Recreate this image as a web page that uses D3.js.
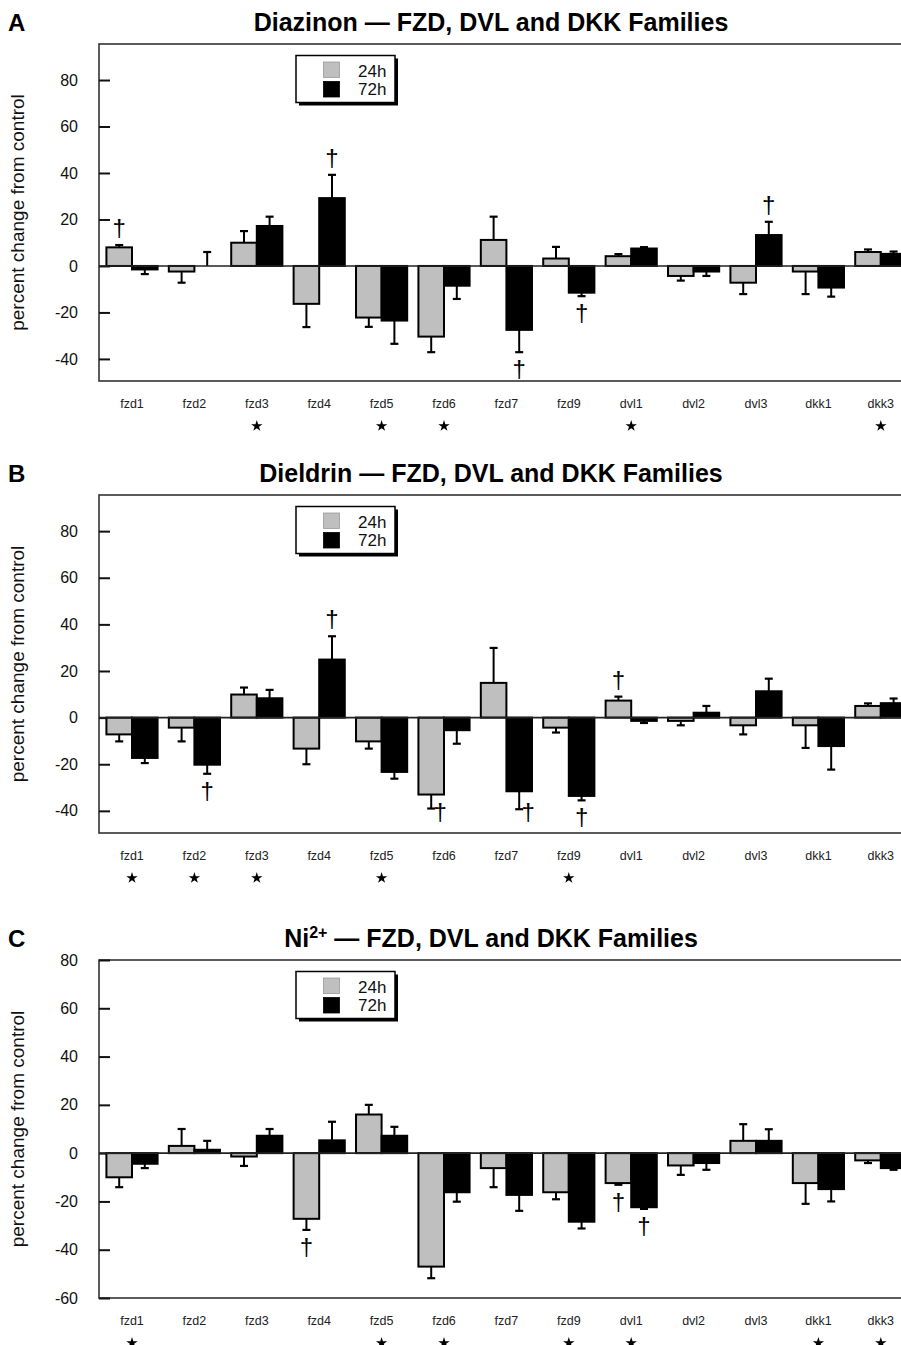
<!DOCTYPE html>
<html>
<head>
<meta charset="utf-8">
<script src="https://cdn.jsdelivr.net/npm/d3@7"></script>
<style>
  body { margin: 0; background: #fff; }
  svg { display: block; font-family: "Liberation Sans", Arial, Helvetica, sans-serif; }
</style>
</head>
<body>
<svg id="chart" width="901" height="1345"></svg>
<script>
// ---------- data ----------
const genes = ["fzd1","fzd2","fzd3","fzd4","fzd5","fzd6","fzd7","fzd9","dvl1","dvl2","dvl3","dkk1","dkk3"];
const seriesNames = ["24h","72h"];
const yTicksAB = [-40,-20,0,20,40,60,80];
const yTicksC = [-60,-40,-20,0,20,40,60,80];

const diazinon24    = [8, -2.4, 10, -16.3, -22.2, -30.4, 11.2, 3.2, 4.2, -4.3, -7.2, -2.4, 6];
const diazinon24Err = [1, 4.8, 5, 10, 4, 6.7, 10, 5, 0.9, 2, 4.9, 9.7, 1.1];
const diazinon72    = [-1.5, 0, 17.2, 29.2, -23.5, -8.5, -27.5, -11.5, 7.5, -2.4, 13.3, -9.3, 5.2];
const diazinon72Err = [2, 6, 4, 10, 10, 5.7, 9.6, 1.5, 0.6, 1.9, 5.7, 3.9, 1];

const dieldrin24    = [-7.2, -4.3, 9.9, -13.3, -10.2, -33, 14.9, -4.3, 7.3, -1.4, -3.3, -3.3, 5];
const dieldrin24Err = [3, 5.9, 3, 6.7, 3.1, 6, 15, 2.1, 1.7, 1.9, 3.9, 9.7, 1.1];
const dieldrin72    = [-17.3, -20.2, 8.3, 24.9, -23.3, -5.4, -31.6, -33.6, -1.4, 2.1, 11.3, -12.2, 6.2];
const dieldrin72Err = [2.2, 3.9, 3.6, 10, 2.9, 5.8, 7.7, 1.9, 0.9, 2.9, 5.4, 10.1, 2];

const nickel24    = [-10, 3, -1.4, -27.2, 16, -47, -6.2, -16.2, -12.4, -5.1, 5.1, -12.4, -3];
const nickel24Err = [4.1, 7, 3.9, 4.6, 4, 4.8, 7.9, 2.9, 0.7, 3.9, 6.9, 8.6, 1.1];
const nickel72    = [-4.4, 1.4, 7.2, 5.3, 7.2, -16.2, -17.3, -28.4, -22.4, -4.1, 5.1, -14.9, -6.2];
const nickel72Err = [1.8, 3.7, 2.8, 7.7, 3.7, 3.9, 6.6, 2.8, 0.7, 2.8, 4.8, 5.1, 0.7];

// significance marks: * below gene label; † on a given series bar
const starsA = ["fzd3","fzd5","fzd6","dvl1","dkk3"];
const starsB = ["fzd1","fzd2","fzd3","fzd5","fzd9"];
const starsC = ["fzd1","fzd5","fzd6","fzd9","dvl1","dkk1","dkk3"];
const daggersA = [["fzd1","24h","above"],["fzd4","72h","above"],["fzd7","72h","below"],["fzd9","72h","below"],["dvl3","72h","above"]];
const daggersB = [["fzd2","72h","below"],["fzd4","72h","above"],["fzd6","24h","side"],["fzd7","72h","side"],["fzd9","72h","below"],["dvl1","24h","above"]];
const daggersC = [["fzd4","24h","below"],["dvl1","24h","below"],["dvl1","72h","below"]];

// ---------- drawing ----------
const svg = d3.select("#chart");
const colors = {"24h": "#bfbfbf", "72h": "#000000"};
const frameLeft = 99, frameRight = 912;

const x0 = d3.scaleBand().domain(genes).range([100.8, 912]).paddingInner(0.18).paddingOuter(0.09);
const x1 = d3.scaleBand().domain(seriesNames).range([0, x0.bandwidth()]);

function panel(cfg) {
  const g = svg.append("g");
  const y = d3.scaleLinear().domain(cfg.domain).range([cfg.bottom, cfg.top]);

  // letter + title
  g.append("text").attr("x", 8).attr("y", cfg.top - 13)
    .attr("font-size", 24).attr("font-weight", "bold").text(cfg.letter);
  const title = g.append("text").attr("x", 491).attr("y", cfg.top - 13)
    .attr("text-anchor", "middle").attr("font-size", 25).attr("font-weight", "bold");
  if (cfg.sup) {
    title.append("tspan").text(cfg.name);
    title.append("tspan").attr("font-size", 16).attr("dy", -9).text(cfg.sup);
    title.append("tspan").attr("dy", 9).text(" \u2014 FZD, DVL and DKK Families");
  } else {
    title.text(cfg.name + " \u2014 FZD, DVL and DKK Families");
  }

  // frame
  g.append("rect").attr("x", frameLeft).attr("y", cfg.top)
    .attr("width", frameRight - frameLeft).attr("height", cfg.bottom - cfg.top)
    .attr("fill", "none").attr("stroke", "#333").attr("stroke-width", 1.6);

  // y axis
  const ax = g.append("g").attr("transform", `translate(${frameLeft},0)`)
    .call(d3.axisLeft(y).tickValues(cfg.ticks).tickFormat(d => String(d))
      .tickSizeInner(-11).tickSizeOuter(0).tickPadding(21));
  ax.select(".domain").remove();
  ax.selectAll(".tick line").attr("stroke", "#111").attr("stroke-width", 2);
  ax.selectAll(".tick text").attr("font-size", 16).attr("fill", "#111")
    .attr("font-family", "'Liberation Sans', Arial, sans-serif");

  // y label
  g.append("text")
    .attr("transform", `translate(24,${(cfg.top + cfg.bottom) / 2}) rotate(-90)`)
    .attr("text-anchor", "middle").attr("font-size", 19).attr("fill", "#111")
    .text("percent change from control");

  // bars
  const rows = [];
  genes.forEach((gn, i) => {
    rows.push({gene: gn, s: "24h", v: cfg.v24[i], e: cfg.e24[i]});
    rows.push({gene: gn, s: "72h", v: cfg.v72[i], e: cfg.e72[i]});
  });
  const cx = d => x0(d.gene) + x1(d.s) + x1.bandwidth() / 2;
  const errEnd = d => y(d.v >= 0 ? d.v + d.e : d.v - d.e);

  // error bars (drawn behind bars)
  g.selectAll(".err").data(rows).join("line")
    .attr("x1", cx).attr("x2", cx)
    .attr("y1", d => y(d.v)).attr("y2", errEnd)
    .attr("stroke", "#000").attr("stroke-width", 2);
  g.selectAll(".cap").data(rows).join("line")
    .attr("x1", d => cx(d) - 4).attr("x2", d => cx(d) + 4)
    .attr("y1", errEnd).attr("y2", errEnd)
    .attr("stroke", "#000").attr("stroke-width", 2.2);

  g.selectAll(".bar").data(rows).join("rect")
    .attr("x", d => x0(d.gene) + x1(d.s))
    .attr("width", x1.bandwidth())
    .attr("y", d => y(Math.max(0, d.v)))
    .attr("height", d => Math.abs(y(d.v) - y(0)))
    .attr("fill", d => colors[d.s])
    .attr("stroke", "#000").attr("stroke-width", 2);

  // zero line
  g.append("line").attr("x1", frameLeft).attr("x2", frameRight)
    .attr("y1", y(0)).attr("y2", y(0)).attr("stroke", "#222").attr("stroke-width", 1.6);

  // daggers
  cfg.daggers.forEach(([gn, s, pos]) => {
    const d = rows.find(r => r.gene === gn && r.s === s);
    const ee = errEnd(d);
    let tx = cx(d), ty;
    if (pos === "above") ty = ee - 9;
    else if (pos === "below") ty = ee + 25;
    else { tx = cx(d) + 9; ty = ee + 11; }
    g.append("text").attr("x", tx).attr("y", ty).attr("text-anchor", "middle")
      .attr("font-size", 24).attr("fill", "#000").text("\u2020");
  });

  // category labels
  g.selectAll(".cat").data(genes).join("text")
    .attr("x", d => x0(d) + x0.bandwidth() / 2)
    .attr("y", cfg.bottom + 27)
    .attr("text-anchor", "middle").attr("font-size", 12.5).attr("fill", "#222")
    .text(d => d);

  // stars
  g.selectAll(".star").data(cfg.stars).join("path")
    .attr("d", d3.symbol().type(d3.symbolStar).size(40))
    .attr("transform", d => `translate(${x0(d) + x0.bandwidth() / 2},${cfg.bottom + 45})`)
    .attr("fill", "#000");

  // legend
  const lx = 296, ly = cfg.top + 11.5, lw = 99, lh = 47;
  g.append("rect").attr("x", lx + 3).attr("y", ly + 3).attr("width", lw).attr("height", lh).attr("fill", "#000");
  g.append("rect").attr("x", lx).attr("y", ly).attr("width", lw).attr("height", lh)
    .attr("fill", "#fff").attr("stroke", "#000").attr("stroke-width", 1.5);
  seriesNames.forEach((s, i) => {
    g.append("rect").attr("x", lx + 27.5).attr("y", ly + 6.5 + i * 19.5)
      .attr("width", 16).attr("height", 15.5)
      .attr("fill", colors[s]).attr("stroke", s === "24h" ? "#999" : "#000").attr("stroke-width", 0.8);
    g.append("text").attr("x", lx + 62).attr("y", ly + 21 + i * 18.5)
      .attr("font-size", 17).attr("fill", "#111").text(s);
  });
}

panel({letter: "A", name: "Diazinon", top: 44, bottom: 381, domain: [-49.5, 95.5], ticks: yTicksAB,
  v24: diazinon24, e24: diazinon24Err, v72: diazinon72, e72: diazinon72Err, stars: starsA, daggers: daggersA});
panel({letter: "B", name: "Dieldrin", top: 495, bottom: 833, domain: [-49.5, 95.5], ticks: yTicksAB,
  v24: dieldrin24, e24: dieldrin24Err, v72: dieldrin72, e72: dieldrin72Err, stars: starsB, daggers: daggersB});
panel({letter: "C", name: "Ni", sup: "2+", top: 960, bottom: 1298, domain: [-60, 80], ticks: yTicksC,
  v24: nickel24, e24: nickel24Err, v72: nickel72, e72: nickel72Err, stars: starsC, daggers: daggersC});
</script>
</body>
</html>
